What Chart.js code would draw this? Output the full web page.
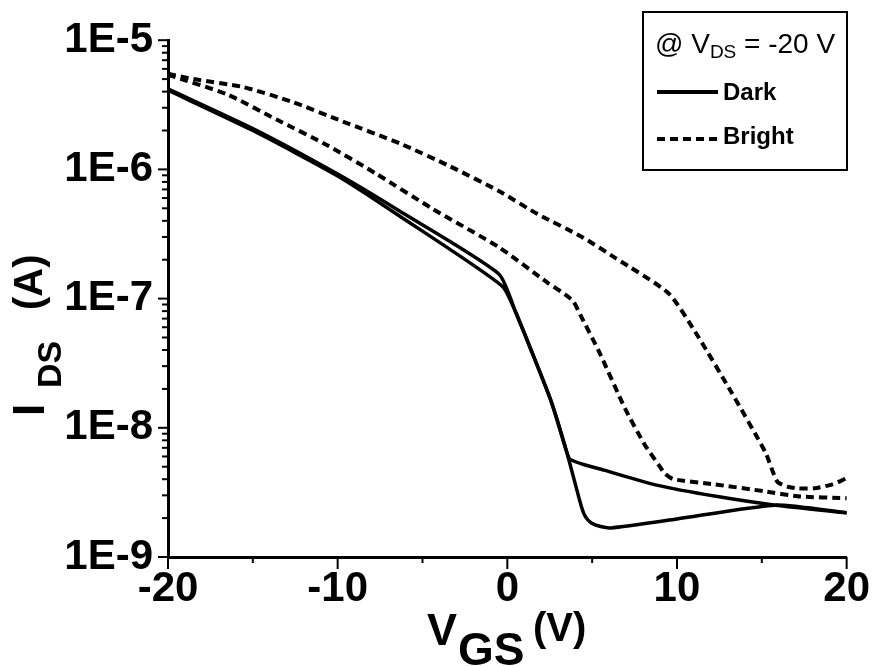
<!DOCTYPE html>
<html>
<head>
<meta charset="utf-8">
<script src="https://cdn.jsdelivr.net/npm/chart.js@4.4.0/dist/chart.umd.min.js"></script>
<style>
  body { margin: 0; background: #fff; }
  #wrap { width: 877px; height: 666px; position: relative; }
</style>
</head>
<body>
<div id="wrap"><canvas id="ivChart"></canvas></div>
<script>
// axis ranges and tick labels
const xMin = -20, xMax = 20;
const xTickLabels = ['-20', '-10', '0', '10', '20'];
const yMin = 1e-9, yMax = 1e-5;
const yTickLabels = ['1E-9', '1E-8', '1E-7', '1E-6', '1E-5'];

// Dark, forward sweep (upper branch after turn-off)
const darkFwdV = [-20, -15, -10, -6.4, -0.5, 0.5, 1.4, 2.6, 3.5, 3.7, 4.6, 5.7, 8.8, 12.3, 15.8, 20];
const darkFwdI = [4.2e-6, 2.07e-6, 9.2e-7, 4.8e-7, 1.55e-7, 7.8e-8, 4.0e-8, 1.58e-8, 6.5e-9, 5.7e-9, 5.15e-9, 4.7e-9, 3.6e-9, 2.95e-9, 2.52e-9, 2.2e-9];

// Dark, reverse sweep (dips to the minimum near 6 V)
const darkRevV = [-20, -15, -10, -6.4, -0.3, 0.5, 1.4, 2.6, 3.5, 4.36, 4.6, 4.95, 5.5, 6.1, 10, 15.8, 20];
const darkRevI = [4.1e-6, 2.0e-6, 8.9e-7, 4.4e-7, 1.25e-7, 7.8e-8, 4.0e-8, 1.58e-8, 6.5e-9, 2.47e-9, 2.05e-9, 1.83e-9, 1.72e-9, 1.68e-9, 1.97e-9, 2.52e-9, 2.2e-9];

// Bright, knee near 4 V
const brightFwdV = [-20, -16.5, -13.6, -10.7, -7.7, -4.4, -0.5, 2.4, 3.4, 3.9, 4.3, 5.4, 6.95, 8.1, 8.9, 9.3, 9.8, 12.2, 15.2, 17.1, 20];
const brightFwdI = [5.4e-6, 3.8e-6, 2.43e-6, 1.56e-6, 9.2e-7, 4.95e-7, 2.5e-7, 1.32e-7, 1.08e-7, 9.5e-8, 7.5e-8, 3.9e-8, 1.4e-8, 7.4e-9, 5.2e-9, 4.4e-9, 4.0e-9, 3.65e-9, 3.22e-9, 2.95e-9, 2.85e-9];

// Bright, knee near 10 V
const brightRevV = [-20, -18.5, -15.6, -12.7, -9.7, -6.2, -3.4, -0.5, 1.8, 4.4, 6.4, 9.5, 11.2, 13.2, 15.2, 15.9, 16.5, 17.1, 18.1, 19, 19.6, 20];
const brightRevI = [5.5e-6, 5.0e-6, 4.35e-6, 3.34e-6, 2.35e-6, 1.56e-6, 1.06e-6, 6.8e-7, 4.5e-7, 3.0e-7, 2.05e-7, 1.1e-7, 5.2e-8, 1.89e-8, 6.5e-9, 3.85e-9, 3.5e-9, 3.4e-9, 3.4e-9, 3.6e-9, 3.85e-9, 4.1e-9];

const FONT = '"Liberation Sans", Arial, sans-serif';

function pairs(vs, is) {
    return vs.map((v, i) => ({x: v, y: is[i]}));
}

function lineSet(label, vs, is, dashed) {
    return {
        label: label,
        data: pairs(vs, is),
        borderColor: '#000',
        borderWidth: dashed ? 4 : 3.5,
        borderDash: dashed ? [8, 5] : [],
        borderJoinStyle: 'round',
        pointRadius: 0,
        tension: 0.2,
        fill: false,
        clip: 6
    };
}

// ticks, axis titles and the boxed legend
const decorPlugin = {
    id: 'decor',
    afterDraw(chart) {
        const ctx = chart.ctx;
        const xs = chart.scales.x, ys = chart.scales.y;
        const area = chart.chartArea;
        ctx.save();
        ctx.strokeStyle = '#000';
        ctx.fillStyle = '#000';
        ctx.lineWidth = 2;

        for (let v = xMin; v <= xMax; v += 5) {
            const px = xs.getPixelForValue(v);
            const len = v % 10 === 0 ? 12 : 6;
            ctx.beginPath();
            ctx.moveTo(px, area.bottom);
            ctx.lineTo(px, area.bottom + len);
            ctx.stroke();
        }
        for (let e = -9; e <= -5; e++) {
            for (let k = 1; k <= 9; k++) {
                const val = k * Math.pow(10, e);
                if (val > yMax * 1.0001) break;
                const py = ys.getPixelForValue(val);
                const len = k === 1 ? 10 : 6;
                ctx.beginPath();
                ctx.moveTo(area.left, py);
                ctx.lineTo(area.left - len, py);
                ctx.stroke();
            }
        }

        // x title: V_GS (V)
        ctx.textBaseline = 'alphabetic';
        ctx.textAlign = 'left';
        ctx.font = 'bold 45px ' + FONT;
        ctx.fillText('V', 427, 645);
        ctx.font = 'bold 46px ' + FONT;
        ctx.fillText('GS', 458, 665);
        ctx.font = 'bold 40px ' + FONT;
        ctx.fillText('(V)', 533, 641);

        // y title: I_DS (A), rotated
        ctx.save();
        ctx.translate(44, 416);
        ctx.rotate(-Math.PI / 2);
        ctx.font = 'bold 44px ' + FONT;
        ctx.fillText('I', 0, 0);
        ctx.font = 'bold 34px ' + FONT;
        ctx.fillText('DS', 28, 17);
        ctx.font = 'bold 40px ' + FONT;
        ctx.fillText('(A)', 106, -2);
        ctx.restore();

        // legend box
        ctx.lineWidth = 2;
        ctx.strokeRect(643, 12, 204, 158);
        let tx = 655;
        ctx.font = '28px ' + FONT;
        ctx.fillText('@ V', tx, 53);
        tx += ctx.measureText('@ V').width;
        ctx.font = '19px ' + FONT;
        ctx.fillText('DS', tx, 58);
        tx += ctx.measureText('DS').width;
        ctx.font = '28px ' + FONT;
        ctx.fillText(' = -20 V', tx, 53);

        ctx.lineWidth = 4;
        ctx.beginPath();
        ctx.moveTo(657, 92);
        ctx.lineTo(718, 92);
        ctx.stroke();
        ctx.setLineDash([8, 5]);
        ctx.beginPath();
        ctx.moveTo(657, 139);
        ctx.lineTo(719, 139);
        ctx.stroke();
        ctx.setLineDash([]);
        ctx.font = 'bold 24px ' + FONT;
        ctx.fillText('Dark', 723, 100);
        ctx.fillText('Bright', 723, 144);
        ctx.restore();
    }
};

const ctx = document.getElementById('ivChart').getContext('2d');
const chart = new Chart(ctx, {
    type: 'line',
    data: {
        datasets: [
            lineSet('Dark', darkFwdV, darkFwdI, false),
            lineSet('Dark rev', darkRevV, darkRevI, false),
            lineSet('Bright', brightFwdV, brightFwdI, true),
            lineSet('Bright rev', brightRevV, brightRevI, true)
        ]
    },
    options: {
        responsive: true,
        maintainAspectRatio: false,
        devicePixelRatio: 1,
        animation: false,
        layout: {padding: {top: 33, right: 28, left: 0, bottom: 0}},
        plugins: {
            legend: {display: false},
            tooltip: {enabled: false}
        },
        scales: {
            x: {
                type: 'linear',
                min: xMin,
                max: xMax,
                grid: {display: false, drawTicks: false},
                border: {display: true, color: '#000', width: 3},
                ticks: {
                    stepSize: 10,
                    padding: 7,
                    color: '#000',
                    font: {family: FONT, size: 42, weight: 'bold'},
                    callback: (v) => {
                        const i = Math.round((v - xMin) / 10);
                        return xTickLabels[i] !== undefined ? xTickLabels[i] : '';
                    }
                },
                afterFit: (scale) => { scale.height = 109; }
            },
            y: {
                type: 'logarithmic',
                min: yMin,
                max: yMax,
                grid: {display: false, drawTicks: false},
                border: {display: true, color: '#000', width: 3},
                ticks: {
                    autoSkip: false,
                    padding: 15,
                    color: '#000',
                    font: {family: FONT, size: 42, weight: 'bold'},
                    callback: (v) => {
                        const e = Math.log10(v);
                        if (Math.abs(e - Math.round(e)) > 1e-6) return '';
                        const i = Math.round(e) + 9;
                        return yTickLabels[i] !== undefined ? yTickLabels[i] : '';
                    }
                },
                afterFit: (scale) => { scale.width = 168; }
            }
        }
    },
    plugins: [decorPlugin]
});
</script>
</body>
</html>
